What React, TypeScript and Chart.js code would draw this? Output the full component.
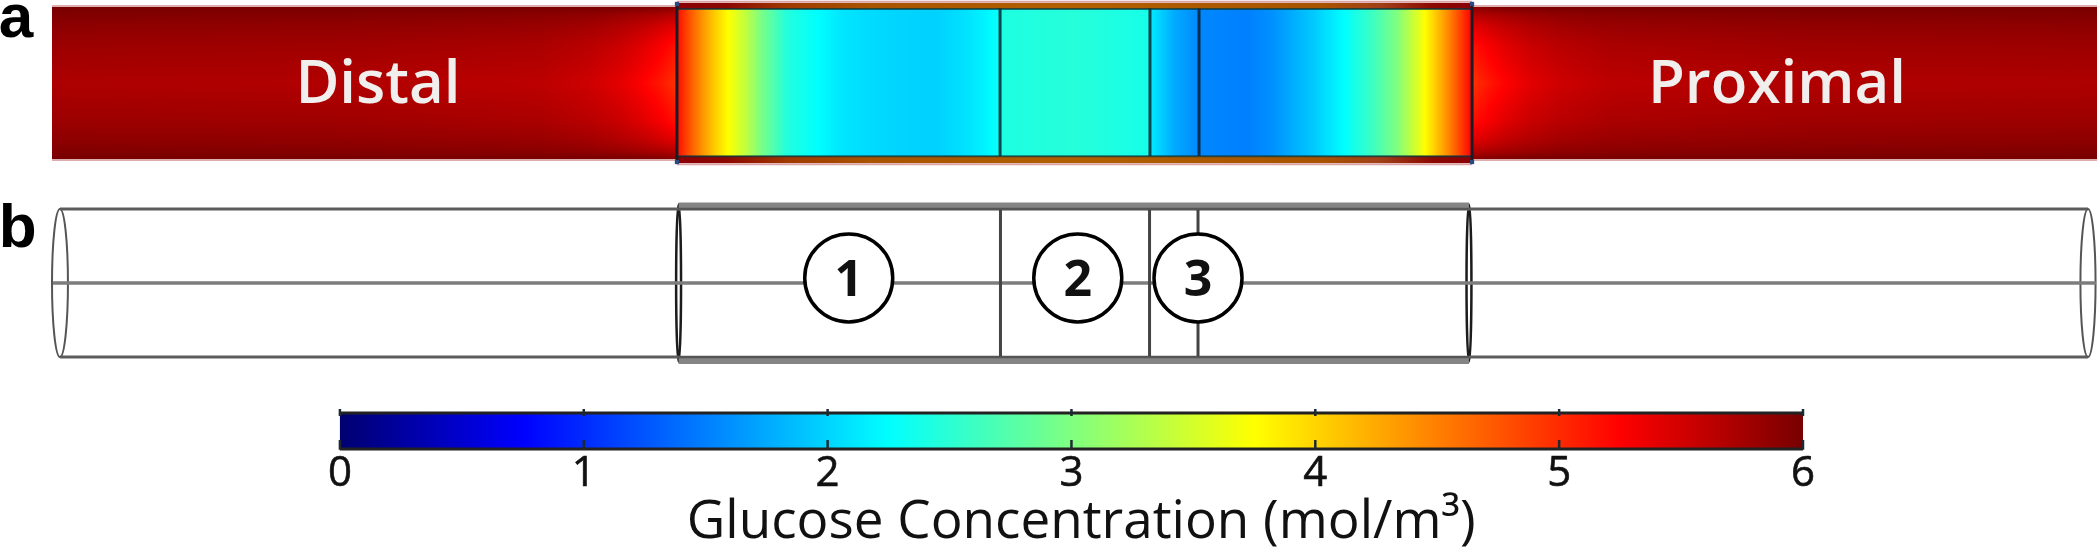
import React, { useEffect, useRef } from "react";
import { Chart, registerables } from "chart.js";

Chart.register(...registerables);

// ---- colour scale (glucose concentration, mol/m3) ----
const colorTicks = [0, 1, 2, 3, 4, 5, 6];
const colorStopValues = [0, 0.75, 2.25, 3.75, 5.25, 6];
const colorStopColors = ["#000070", "#0000ff", "#00ffff", "#ffff00", "#ff0000", "#780000"];
const colorStopRgb = [[0, 0, 112], [0, 0, 255], [0, 255, 255], [255, 255, 0], [255, 0, 0], [120, 0, 0]];
const colorbarTitle = "Glucose Concentration (mol/m³)";

// ---- panel a: side tubes. positions in % of the tube length, radial rows as |r|/R ----
const distalX = [0, 14.57, 23.86, 26.3, 27.77, 28.9, 29.73, 30.56];
const proximalX = [69.44, 70.27, 71.1, 72.23, 73.69, 76.14, 85.43, 100];
const sideRows = [0, 0.5, 0.75, 0.9, 1];
const distalConc = [
  [5.7, 5.68, 5.62, 5.52, 5.4, 5.25, 5.12, 4.95],
  [5.8, 5.78, 5.72, 5.64, 5.55, 5.42, 5.3, 5.15],
  [5.88, 5.86, 5.82, 5.76, 5.68, 5.6, 5.5, 5.4],
  [5.95, 5.93, 5.9, 5.87, 5.82, 5.76, 5.72, 5.65],
  [6, 6, 6, 6, 6, 5.98, 5.95, 5.9],
];
const proximalConc = [
  [4.95, 5.12, 5.25, 5.4, 5.52, 5.62, 5.68, 5.7],
  [5.15, 5.3, 5.42, 5.55, 5.64, 5.72, 5.78, 5.8],
  [5.4, 5.5, 5.6, 5.68, 5.76, 5.82, 5.86, 5.88],
  [5.65, 5.72, 5.76, 5.82, 5.87, 5.9, 5.93, 5.95],
  [5.9, 5.95, 5.98, 6, 6, 6, 6, 6],
];

// ---- panel a: scaffold section profile ----
const scaffoldX = [
  30.56, 31.2, 31.69, 32.27, 33.06, 33.89, 34.72, 35.94, 37.46, 38.53,
  39.71, 41.47, 43.18, 44.69, 45.62, 46.31, 46.41, 50.02, 53.64, 53.74,
  54.91, 56.09, 58.44, 59.66, 61.66, 63.18, 64.55, 65.77, 67.14, 68.36,
  69.34, 69.44,
];
const scaffoldConc = [
  5.2, 4.75, 4.45, 4.12, 3.75, 3.4, 2.95, 2.45, 2.25, 2.11,
  2.05, 2.0, 1.98, 2.08, 2.18, 2.3, 2.42, 2.47, 2.38, 2.12,
  1.75, 1.55, 1.5, 1.6, 1.93, 2.25, 2.6, 3.0, 3.75, 4.5,
  5.2, 5.25,
];
const shellX = [30.56, 33, 36, 40, 50, 62, 65, 67.5, 69.44];
const shellColors = ["#8a0006", "#8c0800", "#a03a00", "#a85400", "#b06000", "#a85400", "#a04018", "#8c0800", "#8a0006"];

// ---- zone boundaries and section limits ----
const zoneBoundariesA = [46.36, 53.69, 56.09];
const sectionEdgesA = [30.56, 69.44];
const distalEdge = [0, 30.56];
const proximalEdge = [69.44, 100];
const zoneBoundariesB = [46.38, 53.67, 56.04];
const tubeLeftX = [0.39, 30.64];
const tubeRightX = [69.29, 99.56];
const sectionX = [30.64, 69.29];
const axisX = [0.05, 99.95];
const ringX = [0.39, 30.64, 69.29, 99.56];
const ringHalfWidth = [0.39, 0.12, 0.12, 0.37];
const ringHalfHeight = [1, 1.06, 1.06, 1];

// ---- numbered zones, labels ----
const zoneNames = ["1", "2", "3"];
const zoneX = [38.96, 50.16, 56.04];
const zoneR = [0.068, 0.068, 0.068];
const tubeNames = ["Distal", "Proximal"];
const tubeNameX = [15.94, 84.35];

function jet(v: number) {
  const s = colorStopValues;
  let i = 0;
  while (i < s.length - 2 && v > s[i + 1]) i++;
  const t = Math.max(0, Math.min(1, (v - s[i]) / (s[i + 1] - s[i])));
  const a = colorStopRgb[i];
  const b = colorStopRgb[i + 1];
  return [a[0] + (b[0] - a[0]) * t, a[1] + (b[1] - a[1]) * t, a[2] + (b[2] - a[2]) * t];
}

function locate(arr: number[], v: number) {
  let i = 0;
  while (i < arr.length - 2 && v > arr[i + 1]) i++;
  const t = Math.max(0, Math.min(1, (v - arr[i]) / (arr[i + 1] - arr[i])));
  return [i, t];
}

function paintField(chart: any, cols: number[], rows: number[], values: number[][], rTop: number, rBottom: number) {
  const { ctx, scales } = chart;
  const x0 = Math.round(scales.x.getPixelForValue(cols[0]));
  const x1 = Math.round(scales.x.getPixelForValue(cols[cols.length - 1]));
  const y0 = Math.round(scales.y.getPixelForValue(rTop));
  const y1 = Math.round(scales.y.getPixelForValue(rBottom));
  const w = x1 - x0;
  const h = y1 - y0;
  const img = ctx.createImageData(w, h);
  for (let py = 0; py < h; py++) {
    const r = Math.abs(scales.y.getValueForPixel(y0 + py + 0.5));
    const [ri, rt] = locate(rows, r);
    for (let px = 0; px < w; px++) {
      const [ci, ct] = locate(cols, scales.x.getValueForPixel(x0 + px + 0.5));
      const top = values[ri][ci] * (1 - ct) + values[ri][ci + 1] * ct;
      const bot = values[ri + 1][ci] * (1 - ct) + values[ri + 1][ci + 1] * ct;
      const c = jet(top * (1 - rt) + bot * rt);
      const k = (py * w + px) * 4;
      img.data[k] = c[0];
      img.data[k + 1] = c[1];
      img.data[k + 2] = c[2];
      img.data[k + 3] = 255;
    }
  }
  ctx.putImageData(img, x0, y0);
}

const figurePlugin = {
  id: "figure",
  beforeDatasetsDraw(chart: any) {
    const { ctx, scales } = chart;
    ctx.save();
    paintField(chart, distalX, sideRows, distalConc, 1, -1);
    paintField(chart, proximalX, sideRows, proximalConc, 1, -1);
    // shell bands of the scaffold section
    const g = ctx.createLinearGradient(scales.x.getPixelForValue(shellX[0]), 0, scales.x.getPixelForValue(shellX[shellX.length - 1]), 0);
    const span = shellX[shellX.length - 1] - shellX[0];
    shellX.forEach((x, i) => g.addColorStop((x - shellX[0]) / span, shellColors[i]));
    ctx.fillStyle = g;
    const bandX0 = scales.x.getPixelForValue(shellX[0]);
    const bandW = scales.x.getPixelForValue(shellX[shellX.length - 1]) - bandX0;
    const yTop = scales.y.getPixelForValue(1.053);
    const yBot = scales.y.getPixelForValue(-1.053);
    ctx.fillRect(bandX0, yTop, bandW, yBot - yTop);
    paintField(chart, scaffoldX, [0, 1], [scaffoldConc, scaffoldConc], 0.98, -0.96);
    // colour bar
    const c = scales.c;
    const barG = ctx.createLinearGradient(c.getPixelForValue(0), 0, c.getPixelForValue(6), 0);
    colorStopValues.forEach((v, i) => barG.addColorStop(v / 6, colorStopColors[i]));
    ctx.fillStyle = barG;
    const by0 = scales.yC.getPixelForValue(1);
    const by1 = scales.yC.getPixelForValue(0);
    ctx.fillRect(c.getPixelForValue(0), by0, c.getPixelForValue(6) - c.getPixelForValue(0), by1 - by0);
    // section rings of panel b
    ringX.forEach((x, i) => {
      const px = scales.x.getPixelForValue(x);
      const rx = Math.abs(scales.x.getPixelForValue(x + ringHalfWidth[i]) - px);
      const cy = scales.yB.getPixelForValue(0);
      const ry = Math.abs(scales.yB.getPixelForValue(ringHalfHeight[i]) - cy);
      ctx.strokeStyle = i === 0 || i === 3 ? "#555555" : "#1c1c1c";
      ctx.lineWidth = i === 0 || i === 3 ? 2 : 2.5;
      ctx.beginPath();
      ctx.ellipse(px, cy, rx, ry, 0, 0, Math.PI * 2);
      ctx.stroke();
    });
    ctx.restore();
  },
  afterDatasetsDraw(chart: any) {
    const { ctx, scales } = chart;
    ctx.save();
    ctx.textBaseline = "alphabetic";
    ctx.textAlign = "center";
    ctx.fillStyle = "#f1eeee";
    ctx.font = "600 60px 'Open Sans'";
    tubeNames.forEach((t, i) => ctx.fillText(t, scales.x.getPixelForValue(tubeNameX[i]), scales.y.getPixelForValue(-0.263)));
    ctx.fillStyle = "#111111";
    ctx.font = "700 50px 'Open Sans'";
    zoneNames.forEach((t, i) => ctx.fillText(t, scales.x.getPixelForValue(zoneX[i]), scales.yB.getPixelForValue(zoneR[i]) + 18));
    ctx.font = "400 53px 'Open Sans'";
    ctx.fillText(colorbarTitle, scales.c.getPixelForValue(3.04), scales.yC.getPixelForValue(-2.47));
    ctx.fillStyle = "#000000";
    ctx.textAlign = "left";
    ctx.font = "700 62px 'Liberation Sans'";
    ctx.fillText("a", scales.x.getPixelForValue(-2.6), scales.y.getPixelForValue(0.605));
    ctx.fillText("b", scales.x.getPixelForValue(-2.6), scales.yB.getPixelForValue(0.49));
    ctx.restore();
  },
};

function seg(xs: number[], ys: number[]) {
  return xs.map((x, i) => ({ x, y: ys[i] }));
}
function lines(axisY: string, xAxis: string, pts: { x: number; y: number }[], color: string, width: number, order: number) {
  return { type: "scatter", xAxisID: xAxis, yAxisID: axisY, data: pts, showLine: true, spanGaps: false, borderColor: color, borderWidth: width, pointRadius: 0, order, borderCapStyle: "butt" };
}
function verticals(xs: number[], top: number, bottom: number) {
  const out: any[] = [];
  xs.forEach((x) => out.push({ x, y: top }, { x, y: bottom }, { x: NaN, y: NaN }));
  return out;
}
function horizontals(x: number[], ys: number[]) {
  const out: any[] = [];
  ys.forEach((y) => out.push({ x: x[0], y }, { x: x[1], y }, { x: NaN, y: NaN }));
  return out;
}

export default function App() {
  const ref = useRef<HTMLCanvasElement>(null);
  useEffect(() => {
    document.body.style.margin = "0";
    const chart = new Chart(ref.current as any, {
      type: "scatter",
      plugins: [figurePlugin],
      data: {
        datasets: [
          // panel a fringes and lines
          lines("y", "x", horizontals(sectionEdgesA, [1.068, -1.068]), "rgba(205,125,125,0.7)", 2, 7),
          lines("y", "x", horizontals(distalEdge, [1.012, -1.012]), "rgba(200,120,120,0.6)", 2, 7),
          lines("y", "x", horizontals(proximalEdge, [1.012, -1.012]), "rgba(200,120,120,0.6)", 2, 7),
          lines("y", "x", horizontals(sectionEdgesA, [0.975, -0.965]), "rgba(0,55,65,0.7)", 2, 6),
          lines("y", "x", verticals(zoneBoundariesA.slice(0, 2), 0.98, -0.96), "rgba(0,50,60,0.9)", 3, 5),
          lines("y", "x", verticals(zoneBoundariesA.slice(2), 0.98, -0.96), "#052f52", 3, 5),
          lines("y", "x", verticals(sectionEdgesA, 1.053, -1.053), "#1b1b28", 3, 4),
          { type: "scatter", xAxisID: "x", yAxisID: "y", data: [...seg(sectionEdgesA, [1.04, 1.04]), ...seg(sectionEdgesA, [-1.04, -1.04])], pointStyle: "rect", pointRadius: 3, backgroundColor: "#2b4a80", borderWidth: 0, order: 3 },
          // panel b wireframe
          lines("yB", "x", horizontals(axisX, [0]), "#7d7d7d", 3.5, 10),
          lines("yB", "x", horizontals(tubeLeftX, [1, -1]), "#5c5c5c", 3, 9),
          lines("yB", "x", horizontals(tubeRightX, [1, -1]), "#5c5c5c", 3, 9),
          lines("yB", "x", horizontals(sectionX, [1.035, -1.04]), "#858585", 8, 9),
          lines("yB", "x", horizontals(sectionX, [1, -1.0]), "#555555", 2.5, 8),
          lines("yB", "x", verticals(zoneBoundariesB, 0.99, -0.99), "#444444", 3, 7),
          // zone markers
          { type: "scatter", xAxisID: "x", yAxisID: "yB", data: seg(zoneX, zoneR), pointStyle: "circle", pointRadius: 44, backgroundColor: "#ffffff", borderColor: "#000000", borderWidth: 3.5, order: 0 },
          // colour bar frame and ticks
          lines("yC", "c", horizontals([0, 6], [1, 0]), "#222222", 3, 2),
          lines("yC", "c", verticals(colorTicks, 1.11, 0.92), "#1e2a33", 2.5, 1),
          lines("yC", "c", verticals(colorTicks, 0.25, -0.02), "#1e2a33", 2.5, 1),
        ] as any,
      },
      options: {
        animation: false,
        responsive: false,
        maintainAspectRatio: false,
        layout: { padding: 0, autoPadding: false },
        events: [],
        plugins: { legend: { display: false }, tooltip: { enabled: false }, title: { display: false } },
        scales: {
          x: { type: "linear", display: false, min: -2.543, max: 100.147 },
          y: { type: "linear", display: false, min: -6.158, max: 1.092 },
          yB: { type: "linear", display: false, axis: "y", min: -3.622, max: 3.824 },
          yC: { type: "linear", display: false, axis: "y", min: -2.833, max: 12.472 },
          c: {
            type: "linear",
            axis: "x",
            position: { yC: 0 },
            min: -1.394,
            max: 7.218,
            grid: { display: false, drawTicks: false },
            border: { display: false },
            afterBuildTicks: (axis: any) => {
              axis.ticks = colorTicks.map((value) => ({ value }));
            },
            ticks: { autoSkip: false, maxRotation: 0, padding: 0, color: "#111111", textStrokeColor: "#111111", textStrokeWidth: 0.6, font: { family: "'Open Sans'", size: 42 } },
          },
        } as any,
      },
    });
    return () => chart.destroy();
  }, []);
  return (
    <div style={{ position: "absolute", left: 0, top: 0, width: 2100, height: 551, background: "#ffffff" }}>
      <canvas ref={ref} width={2100} height={551} style={{ display: "block", filter: "blur(0.7px)" }} />
    </div>
  );
}
